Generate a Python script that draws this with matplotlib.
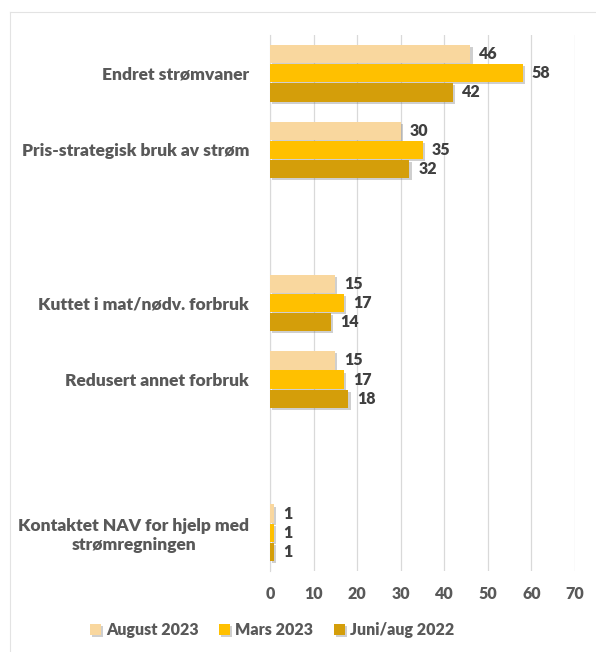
import numpy as np
import matplotlib
matplotlib.use("Agg")
import matplotlib.pyplot as plt
import matplotlib.patheffects as pe
from matplotlib.lines import Line2D

# data (top to bottom, blank slots are gaps in the chart)
categories = ["Endret strømvaner", "Pris-strategisk bruk av strøm", "",
              "Kuttet i mat/nødv. forbruk", "Redusert annet forbruk", "",
              "Kontaktet NAV for hjelp med\nstrømregningen"]
series = ["August 2023", "Mars 2023", "Juni/aug 2022"]
aug_2023 = [46, 30, None, 15, 15, None, 1]
mar_2023 = [58, 35, None, 17, 17, None, 1]
jun_2022 = [42, 32, None, 14, 18, None, 1]
colors = ["#F9D79E", "#FFC000", "#D49E0A"]

plt.rcParams['font.family'] = ['Lato', 'DejaVu Sans']
W = "heavy"

fig = plt.figure(figsize=(5.96, 6.52), dpi=100)
ax = fig.add_axes([270/596, 1-571/652, 305/596, 536/652])

n = len(categories)
y = np.arange(n)
h = 0.25
offsets = [-h, 0, h]
shadow = [pe.SimplePatchShadow(offset=(1.5, -1.5), alpha=0.35, shadow_rgbFace="#777777"), pe.Normal()]

for vals, off, col, name in zip([aug_2023, mar_2023, jun_2022], offsets, colors, series):
    idx = [i for i, v in enumerate(vals) if v is not None]
    v = [vals[i] for i in idx]
    bars = ax.barh(y[idx] + off, v, height=h*0.95, color=col, label=name, zorder=3)
    for b in bars:
        b.set_path_effects(shadow)
    for yi, vi in zip(y[idx] + off, v):
        ax.text(vi + 2.0, yi, str(vi), va="center", ha="left", fontsize=11.5,
                fontweight=W, color="#404040")

ax.set_ylim(n - 0.5, -0.5)
ax.set_xlim(0, 70)
ax.set_xticks(range(0, 71, 10))
ax.set_yticks(y)
ax.set_yticklabels(categories, fontsize=12.5, fontweight=W, color="#595959",
                   ha="right", multialignment="center")
ax.tick_params(axis="y", length=0, pad=15)
ax.tick_params(axis="x", length=0, labelsize=11.5, labelcolor="#595959", pad=11)
for lbl in ax.get_xticklabels():
    lbl.set_fontweight(W)
ax.grid(axis="x", color="#D9D9D9", linewidth=0.9, zorder=0)
for s in ["top", "right", "bottom"]:
    ax.spines[s].set_visible(False)
ax.spines["left"].set_color("#D9D9D9")

leg = fig.legend(loc="center", bbox_to_anchor=(272/596, 1-630/652), ncol=3,
                 frameon=False, fontsize=11.5, handlelength=0.7, handleheight=0.7,
                 columnspacing=1.3, handletextpad=0.3)
for t in leg.get_texts():
    t.set_fontweight(W)
    t.set_color("#595959")

# faint outer frame from the spreadsheet
fig.add_artist(Line2D([10/596, 1], [1-12/652, 1-12/652], color="#E3E3E3", lw=0.8))
fig.add_artist(Line2D([10/596, 10/596], [0, 1-12/652], color="#E3E3E3", lw=0.8))

fig.savefig("out.png", dpi=100)
